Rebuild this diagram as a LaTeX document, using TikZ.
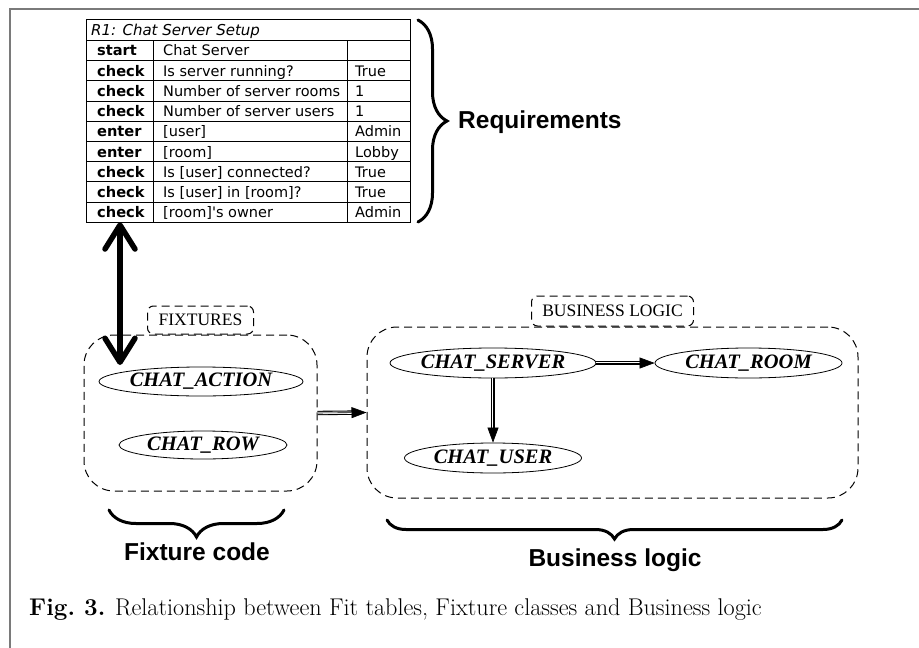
\documentclass[tikz,border=0pt]{standalone}
\usepackage{fontspec}
\usetikzlibrary{shapes.geometric,arrows.meta,decorations.pathreplacing}
\newfontfamily\tabfont{DejaVu Sans}
\newfontfamily\graphfont{Liberation Serif}
\newfontfamily\labelfont{Liberation Sans}
\definecolor{framegray}{HTML}{7A7A7A}
\begin{document}
\begin{tikzpicture}[x=1pt,y=-1pt,
  cell/.style={anchor=base west,inner sep=0pt,font=\tabfont\fontsize{14.5}{16}\selectfont},
  keycell/.style={cell,font=\tabfont\bfseries\fontsize{14.6}{16}\selectfont},
  titlecell/.style={cell,font=\tabfont\itshape\fontsize{15}{16}\selectfont},
  classnode/.style={ellipse,draw,line width=0.8pt,inner sep=0pt,
    font=\graphfont\bfseries\itshape\fontsize{20.5}{22}\selectfont},
  cluster/.style={draw,rounded corners=30pt,line width=1pt,dash pattern=on 8pt off 5pt},
  clusterlabel/.style={draw,rounded corners=6pt,line width=1pt,dash pattern=on 8pt off 5pt,
    anchor=south,inner sep=0pt,font=\graphfont\fontsize{17.5}{20}\selectfont},
  dblshaft/.style={double=white,double distance=2.2pt,line width=1.1pt,shorten >=13pt},
  headline/.style={line width=0.6pt,-{Triangle[length=15pt,width=11pt]}},
  bigbrace/.style={decorate,line width=3pt,line cap=round},
  bracelabel/.style={anchor=base,inner sep=0pt,font=\labelfont\bfseries\fontsize{24.5}{28}\selectfont}
]
\useasboundingbox (0,0) rectangle (919,648);

% page frame
\draw[framegray,line width=2pt] (10,648) -- (10,9) -- (919,9);

% Fit table
\draw[line width=1pt] (86,19) rectangle (410,222.3);
\foreach \i in {0,...,8}
  \draw[line width=0.8pt] (86,{40.3+\i*20.22}) -- (410,{40.3+\i*20.22});
\draw[line width=0.8pt] (153,40.3) -- (153,222.3);
\draw[line width=0.8pt] (347,40.3) -- (347,222.3);
\node[titlecell] (title) at (91,35.3) {R1: Chat Server Setup};
\foreach \k/\a/\b [count=\n] in {
    start/Chat Server/{},
    check/Is server running?/True,
    check/Number of server rooms/1,
    check/Number of server users/1,
    enter/[user]/Admin,
    enter/[room]/Lobby,
    check/Is [user] connected?/True,
    check/Is [user] in [room]?/True,
    check/[room]'s owner/Admin}{
  \node[keycell] (key\n) at (97,{40.3+(\n-1)*20.22+15.6}) {\k};
  \node[cell] (desc\n) at (163,{40.3+(\n-1)*20.22+15.6}) {\a};
  \node[cell] (val\n) at (355,{40.3+(\n-1)*20.22+15.6}) {\b};
}

% requirements brace
\draw[bigbrace,decoration={brace,amplitude=29pt}] (418,20) -- (418,222);
\node[anchor=base west,inner sep=0pt,font=\labelfont\bfseries\fontsize{24.5}{28}\selectfont]
  (req) at (458,128) {Requirements};

% clusters
\node[cluster,minimum width=233,minimum height=156] (fixbox) at (200.5,413) {};
\node[clusterlabel,minimum width=106,minimum height=28] (fixlbl) at (fixbox.north) {FIXTURES};
\node[cluster,minimum width=491,minimum height=171] (bizbox) at (612.5,412.5) {};
\node[clusterlabel,minimum width=162,minimum height=30] (bizlbl) at (bizbox.north) {BUSINESS LOGIC};

% classes
\node[classnode,minimum width=204,minimum height=29] (act) at (201,381.5) {CHAT\_ACTION};
\node[classnode,minimum width=168,minimum height=28] (row) at (203,445) {CHAT\_ROW};
\node[classnode,minimum width=206,minimum height=30] (srv) at (493,363) {CHAT\_SERVER};
\node[classnode,minimum width=187,minimum height=30] (room) at (748.5,363) {CHAT\_ROOM};
\node[classnode,minimum width=177,minimum height=30] (usr) at (493,458) {CHAT\_USER};

% dependencies
\draw[dblshaft] (fixbox.east) -- (bizbox.west);
\draw[headline] (fixbox.east) -- (bizbox.west);
\draw[dblshaft] (srv.east) -- (room.west);
\draw[headline] (srv.east) -- (room.west);
\draw[dblshaft] (srv.south) -- (usr.north);
\draw[headline] (srv.south) -- (usr.north);

% link between the table and the fixture code
\coordinate (linktop) at (120,222.3);
\coordinate (linkbot) at (120,365);
\draw[line width=5.5pt,{Straight Barb[length=24pt,width=30pt,round]}-{Straight Barb[length=24pt,width=30pt,round]}]
  (linktop) -- (linkbot);

% bottom braces
\draw[bigbrace,decoration={brace,amplitude=27pt}] (284,510) -- (109,510);
\node[bracelabel] (fixcode) at (197,560) {Fixture code};
\draw[bigbrace,decoration={brace,amplitude=19pt}] (842,520) -- (387,520);
\node[bracelabel] (bizcode) at (615,566) {Business logic};

% caption
\node[anchor=base west,inner sep=0pt,font=\fontsize{24.2}{28}\selectfont] (cap) at (29,615)
  {\textbf{Fig.\ 3.} Relationship between Fit tables, Fixture classes and Business logic};
\end{tikzpicture}
\end{document}
